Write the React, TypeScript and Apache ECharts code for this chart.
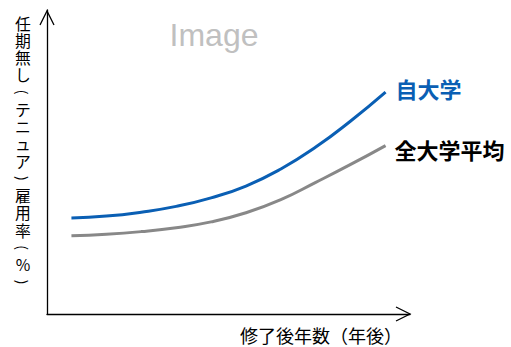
import React, { useEffect, useRef } from "react";
import * as echarts from "echarts";

const years = [0, 1, 2, 3, 4, 5, 6, 7, 8, 9];
const ownUniv = [31.6, 32.2, 33.5, 35.4, 38.2, 42.1, 47.7, 54.9, 63.5, 73.0];
const allUnivAvg = [25.7, 26.2, 27.1, 28.4, 30.3, 33.3, 37.6, 43.3, 49.2, 55.4];
const seriesNames = ["自大学", "全大学平均"];
const yTitle = ["任", "期", "無", "し", "(", "テ", "ニ", "ュ", "ア", ")", "雇", "用", "率", "(", "%", ")"];
const xTitle = "修了後年数（年後）";
const watermark = "Image";

const JP = '"Noto Sans CJK JP", "Noto Sans", sans-serif';

export default function App() {
  const ref = useRef<HTMLDivElement>(null);
  useEffect(() => {
    if (!ref.current) return;
    const chart = echarts.init(ref.current, null, { renderer: "svg" });
    const mk = (arr: number[]) => years.map((x, i) => [x, arr[i]]);
    const yTitleEls = yTitle.map((ch, i) => {
      const isParen = ch === "(" || ch === ")";
      return {
        type: "text",
        x: 23,
        y: 23 + i * 17.27,
        rotation: isParen ? -Math.PI / 2 : 0,
        style: {
          text: ch,
          fill: "#000",
          fontSize: isParen ? 14 : 15.8,
          lineHeight: isParen ? 14 : 15.8,
          fontFamily: JP,
          align: "center",
          verticalAlign: "middle",
        },
      };
    });
    chart.setOption({
      animation: false,
      grid: { left: 47, right: 101, top: 10, bottom: 33, containLabel: false },
      xAxis: {
        type: "value",
        min: -0.7,
        max: 9.7,
        axisLine: { show: true, onZero: false, lineStyle: { color: "#000", width: 1.3 } },
        axisTick: { show: false },
        axisLabel: { show: false },
        splitLine: { show: false },
      },
      yAxis: {
        type: "value",
        min: 0,
        max: 100,
        axisLine: { show: true, onZero: false, lineStyle: { color: "#000", width: 1.3 } },
        axisTick: { show: false },
        axisLabel: { show: false },
        splitLine: { show: false },
      },
      series: [
        {
          name: seriesNames[0],
          type: "line",
          data: mk(ownUniv),
          smooth: true,
          symbol: "none",
          lineStyle: { color: "#0a5fb4", width: 3 },
          endLabel: {
            show: true,
            formatter: "{a}",
            distance: 10,
            offset: [0, -4],
            color: "#0a5fb4",
            fontSize: 22,
            fontWeight: "bold",
            fontFamily: JP,
          },
        },
        {
          name: seriesNames[1],
          type: "line",
          data: mk(allUnivAvg),
          smooth: true,
          symbol: "none",
          lineStyle: { color: "#888888", width: 3 },
          endLabel: {
            show: true,
            formatter: "{a}",
            distance: 9,
            offset: [0, 3],
            color: "#000",
            fontSize: 22,
            fontWeight: "bold",
            fontFamily: JP,
          },
        },
      ],
      graphic: [
        {
          type: "polyline",
          shape: { points: [[396, 307], [410, 314], [396, 321]] },
          style: { stroke: "#000", lineWidth: 1.3, fill: "none" },
        },
        {
          type: "polyline",
          shape: { points: [[40, 25], [47, 11], [54, 25]] },
          style: { stroke: "#000", lineWidth: 1.3, fill: "none" },
        },
        {
          type: "text",
          x: 214,
          y: 51,
          style: {
            text: watermark,
            fill: "#c0c0c0",
            fontSize: 32,
            fontFamily: '"Liberation Sans", Arial, sans-serif',
            align: "center",
            verticalAlign: "bottom",
          },
        },
        ...yTitleEls,
        {
          type: "text",
          x: 240,
          y: 335,
          style: {
            text: xTitle,
            fill: "#000",
            fontSize: 18,
            lineHeight: 18,
            fontFamily: JP,
            align: "left",
            verticalAlign: "middle",
          },
        },
      ],
    });
    return () => chart.dispose();
  }, []);
  return <div ref={ref} style={{ width: 511, height: 347, position: "absolute", left: 0, top: 0 }} />;
}
